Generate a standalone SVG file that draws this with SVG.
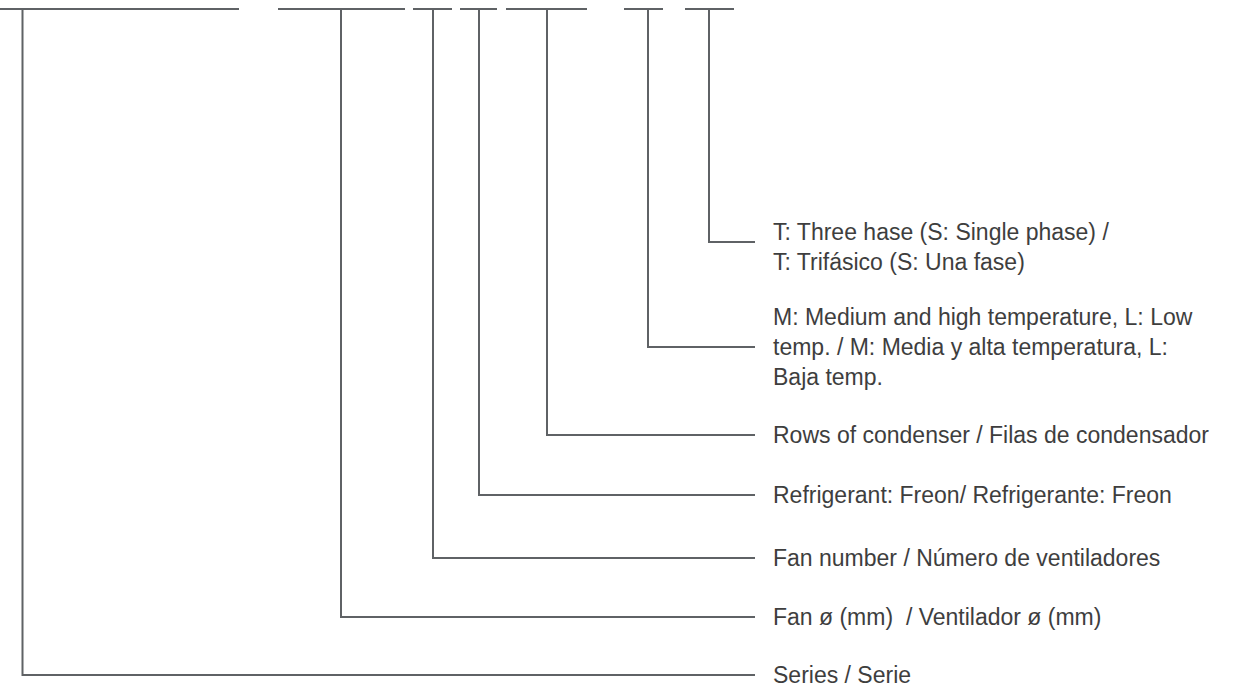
<svg xmlns="http://www.w3.org/2000/svg" width="1255" height="686" viewBox="0 0 1255 686">
  <style>
    .ln { fill: none; stroke: #5f6265; stroke-width: 2; }
    .lbl { font-family: "Liberation Sans", Arial, sans-serif; font-size: 23px; fill: #3e3e3e; }
  </style>
  <rect width="1255" height="686" fill="#ffffff"/>
  <g id="code-bars">
    <line class="ln" x1="0" y1="9" x2="239" y2="9"/>
    <line class="ln" x1="278" y1="9" x2="405" y2="9"/>
    <line class="ln" x1="413" y1="9" x2="452" y2="9"/>
    <line class="ln" x1="460" y1="9" x2="497" y2="9"/>
    <line class="ln" x1="506" y1="9" x2="587" y2="9"/>
    <line class="ln" x1="624" y1="9" x2="663" y2="9"/>
    <line class="ln" x1="685" y1="9" x2="734" y2="9"/>
  </g>
  <g id="connectors">
    <polyline class="ln" points="709,9 709,242 755,242"/>
    <polyline class="ln" points="648,9 648,347 755,347"/>
    <polyline class="ln" points="547,9 547,435 755,435"/>
    <polyline class="ln" points="479,9 479,495 755,495"/>
    <polyline class="ln" points="433,9 433,558 755,558"/>
    <polyline class="ln" points="341,9 341,617 755,617"/>
    <polyline class="ln" points="22.5,9 22.5,675 755,675"/>
  </g>
  <g id="node-phase">
    <text class="lbl" x="773" y="240">T: Three hase (S: Single phase) /</text>
    <text class="lbl" x="773" y="270">T: Trifásico (S: Una fase)</text>
  </g>
  <g id="node-temperature">
    <text class="lbl" x="773" y="325">M: Medium and high temperature, L: Low</text>
    <text class="lbl" x="773" y="355">temp. / M: Media y alta temperatura, L:</text>
    <text class="lbl" x="773" y="385">Baja temp.</text>
  </g>
  <g id="node-rows">
    <text class="lbl" x="773" y="443">Rows of condenser / Filas de condensador</text>
  </g>
  <g id="node-refrigerant">
    <text class="lbl" x="773" y="503">Refrigerant: Freon/ Refrigerante: Freon</text>
  </g>
  <g id="node-fan-number">
    <text class="lbl" x="773" y="566">Fan number / Número de ventiladores</text>
  </g>
  <g id="node-fan-diameter">
    <text class="lbl" x="773" y="625" xml:space="preserve">Fan ø (mm)  / Ventilador ø (mm)</text>
  </g>
  <g id="node-series">
    <text class="lbl" x="773" y="683">Series / Serie</text>
  </g>
</svg>
